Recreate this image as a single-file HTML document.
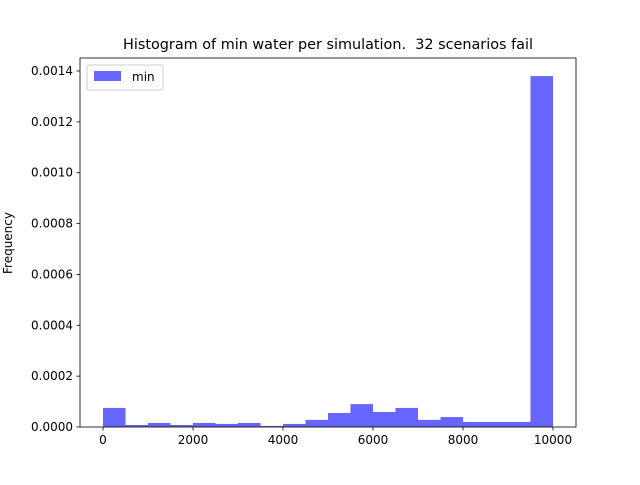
<!DOCTYPE html>
<html><head><meta charset="utf-8"><style>
body{margin:0;background:#fff;font-family:"Liberation Sans","DejaVu Sans",sans-serif}
svg text{font-family:"DejaVu Sans","Liberation Sans",sans-serif}
</style></head><body>
<svg id="chart" width="640" height="480">
<rect width="640" height="480" fill="#fff"/>
<text x="328" y="49" font-size="14.4" text-anchor="middle" style="white-space:pre" xml:space="preserve">Histogram of min water per simulation.  32 scenarios fail</text>
<g id="bars"></g>
<g id="axes"></g>
<text transform="translate(12,243) rotate(-90)" font-size="12" text-anchor="middle">Frequency</text>
<g>
<rect x="87" y="65" width="76" height="25" rx="2" fill="#fff" stroke="#ccc"/>
<rect x="94" y="71" width="27" height="10" fill="#6666ff"/>
<text x="132" y="81" font-size="12">min</text>
</g>
</svg>
<script>
const binEdges=[0,500,1000,1500,2000,2500,3000,3500,4000,4500,5000,5500,6000,6500,7000,7500,8000,8500,9000,9500,10000];
const freqs=[7.5e-5,0.8e-5,1.6e-5,0.8e-5,1.6e-5,1.2e-5,1.6e-5,0.4e-5,1.2e-5,2.8e-5,5.5e-5,9.0e-5,5.9e-5,7.5e-5,2.8e-5,3.9e-5,2.0e-5,2.0e-5,2.0e-5,0.00138];
const xTicks=[0,2000,4000,6000,8000,10000];
const yTicks=[0,0.0002,0.0004,0.0006,0.0008,0.001,0.0012,0.0014];
const yTickLabels=["0.0000","0.0002","0.0004","0.0006","0.0008","0.0010","0.0012","0.0014"];
const L=80,R=576,T=58,B=427;
const xs=v=>103+v*0.045;
const ys=v=>427-v*(356/0.0014);
const NS="http://www.w3.org/2000/svg";
const bars=document.getElementById('bars'),axes=document.getElementById('axes');
function mk(tag,at,p){const e=document.createElementNS(NS,tag);for(const k in at)e.setAttribute(k,at[k]);p.appendChild(e);return e;}
freqs.forEach((f,i)=>{
 const x0=xs(binEdges[i]),x1=xs(binEdges[i+1]);
 const r=mk('rect',{x:x0,y:ys(f),width:x1-x0,height:B-ys(f),fill:'#6666ff'},bars);
 
 
});
mk('rect',{x:L,y:T,width:R-L,height:B-T,fill:'none',stroke:'#000','stroke-width':0.8},axes);
xTicks.forEach(v=>{
 const x=xs(v);
 mk('line',{x1:x,x2:x,y1:B,y2:B+3.5,stroke:'#000','stroke-width':0.8},axes);
 const t=mk('text',{x:x,y:B+17,'font-size':12,'text-anchor':'middle'},axes);t.textContent=v;
 
 
});
yTicks.forEach((v,i)=>{
 const y=ys(v);
 mk('line',{x1:L-3.5,x2:L,y1:y,y2:y,stroke:'#000','stroke-width':0.8},axes);
 const t=mk('text',{x:L-7,y:y+4,'font-size':12,'text-anchor':'end'},axes);t.textContent=yTickLabels[i];
 
 
});
</script>
</body></html>
